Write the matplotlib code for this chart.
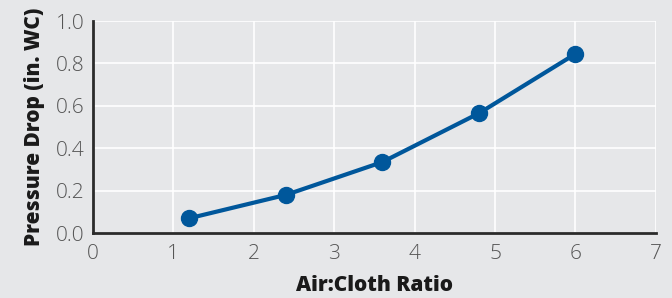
import matplotlib
matplotlib.use("Agg")
import matplotlib.pyplot as plt

x_vals = [1.2, 2.4, 3.6, 4.8, 6.0]
y_vals = [0.07, 0.18, 0.335, 0.565, 0.845]
x_ticks = [0, 1, 2, 3, 4, 5, 6, 7]
y_ticks = [0.0, 0.2, 0.4, 0.6, 0.8, 1.0]
y_tick_labels = ["0.0", "0.2", "0.4", "0.6", "0.8", "1.0"]

bg = "#e6e7e9"
line_c = "#00579b"

fig = plt.figure(figsize=(6.72, 2.98), dpi=100, facecolor=bg)
ax = fig.add_axes([0.1384, 0.218, 0.8376, 0.7115], facecolor=bg)

ax.plot(x_vals, y_vals, color=line_c, lw=3, marker="o", ms=11.5, zorder=3, clip_on=False)

ax.set_xlim(0, 7)
ax.set_ylim(0, 1.0)
ax.set_xticks(x_ticks)
ax.set_yticks(y_ticks)
ax.set_yticklabels(y_tick_labels)
ax.grid(True, color="white", lw=1.2)
ax.set_axisbelow(True)
for s in ["top", "right"]:
    ax.spines[s].set_visible(False)
for s in ["left", "bottom"]:
    ax.spines[s].set_color("#2b2b2b")
    ax.spines[s].set_linewidth(2)
ax.tick_params(axis="x", length=0, labelsize=15, labelcolor="#555555", pad=8)
ax.tick_params(axis="y", length=0, labelsize=15, labelcolor="#555555", pad=6)
for lab in ax.get_xticklabels() + ax.get_yticklabels():
    lab.set_fontfamily("Open Sans")
    lab.set_fontweight("light")

ax.set_xlabel("Air:Cloth Ratio", fontsize=15, fontweight="heavy", color="#1a1a1a",
              family="Open Sans", labelpad=8)
ax.set_ylabel("Pressure Drop (in. WC)", fontsize=15, fontweight="heavy", color="#1a1a1a",
              family="Open Sans", labelpad=8)

fig.savefig("out.png", dpi=100, facecolor=bg)
